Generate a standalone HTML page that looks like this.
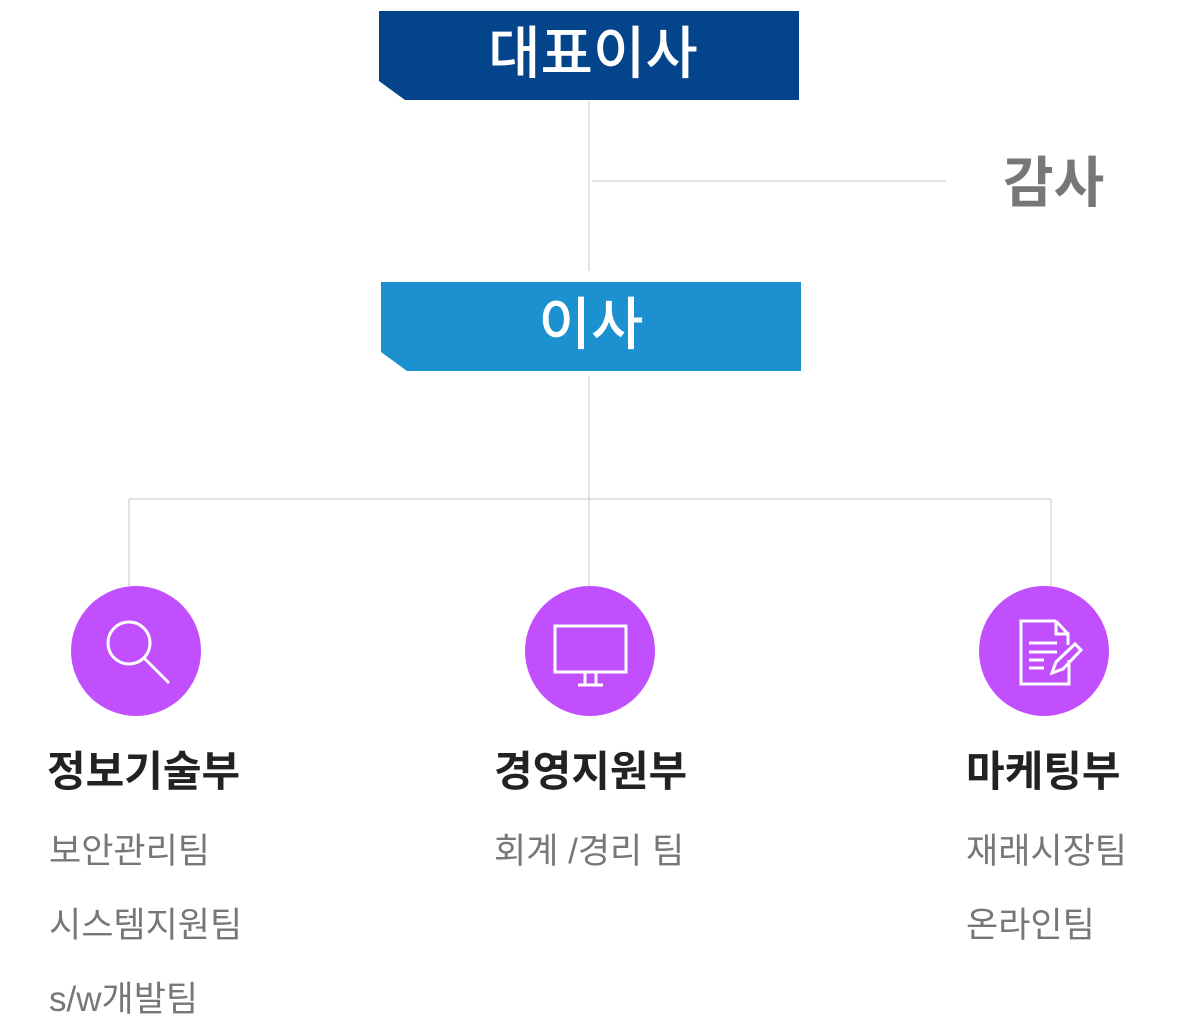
<!DOCTYPE html>
<html><head><meta charset="utf-8"><style>
body{margin:0;width:1180px;height:1034px;background:#fff;position:relative;overflow:hidden;font-family:"Liberation Sans","Noto Sans CJK KR",sans-serif}
.t{position:absolute;white-space:nowrap;line-height:1}
.h{font-size:42px;font-weight:bold;color:#222}
.s{font-size:35px;color:#777}
</style></head><body>
<svg width="1180" height="1034" style="position:absolute;left:0;top:0">
<polygon points="379,11 799,11 799,100 405,100 379,81" fill="#03448a"/>
<polygon points="381,282 801,282 801,371 407,371 381,352" fill="#1c91d0"/>
<g stroke="#d9d9d9" stroke-width="1.5" fill="none">
<line x1="589" y1="101" x2="589" y2="271"/>
<line x1="592" y1="181" x2="946" y2="181"/>
<line x1="589" y1="376" x2="589" y2="586"/>
<line x1="129" y1="499" x2="1051" y2="499"/>
<line x1="129" y1="499" x2="129" y2="586"/>
<line x1="1051" y1="499" x2="1051" y2="586"/>
</g>
<g fill="#c14ffd"><circle cx="136" cy="651" r="65"/><circle cx="590" cy="651" r="65"/><circle cx="1044" cy="651" r="65"/></g>
<g stroke="#fff" stroke-width="3" fill="none">
<circle cx="129" cy="643" r="21"/><line x1="144" y1="658" x2="169" y2="683"/>
<rect x="555" y="626" width="71" height="46"/><line x1="585" y1="673" x2="585" y2="684"/><line x1="596" y1="673" x2="596" y2="684"/><line x1="578" y1="685" x2="603" y2="685"/>
<polyline points="1056,621 1021,621 1021,684 1069,684 1069,660"/><polyline points="1056,621 1056,634 1068,634 1068,645"/><line x1="1056" y1="621" x2="1068" y2="634"/>
<line x1="1029" y1="643" x2="1057" y2="643"/><line x1="1029" y1="652" x2="1057" y2="652"/><line x1="1029" y1="660" x2="1044" y2="660"/><line x1="1029" y1="668" x2="1044" y2="668"/>
<polygon points="1075,644 1081,650 1063,669 1052,673 1056,662"/>
</g>
</svg>
<div class="t" style="left:383px;width:420px;top:26px;text-align:center;color:#fff;font-size:57px;font-weight:500">대표이사</div>
<div class="t" style="left:381px;width:420px;top:297px;text-align:center;color:#fff;font-size:57px;font-weight:500">이사</div>
<div class="t" style="left:1003px;top:156px;color:#777;font-size:55px;font-weight:bold">감사</div>
<div class="t h" style="left:47px;top:751px">정보기술부</div>
<div class="t h" style="left:494px;top:751px">경영지원부</div>
<div class="t h" style="left:966px;top:751px">마케팅부</div>
<div class="t s" style="left:49px;top:834px">보안관리팀</div>
<div class="t s" style="left:49px;top:908px">시스템지원팀</div>
<div class="t s" style="left:49px;top:982px">s/w개발팀</div>
<div class="t s" style="left:494px;top:834px">회계 /경리 팀</div>
<div class="t s" style="left:966px;top:834px">재래시장팀</div>
<div class="t s" style="left:966px;top:908px">온라인팀</div>
</body></html>
